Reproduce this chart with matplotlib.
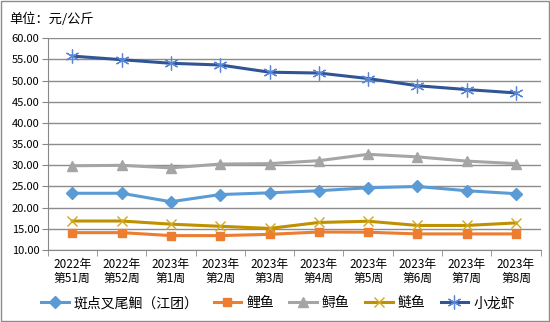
import matplotlib.pyplot as plt
from matplotlib.patches import Rectangle

plt.rcParams['font.family'] = ['Noto Sans CJK SC', 'DejaVu Sans']

weeks = ["2022年\n第51周", "2022年\n第52周", "2023年\n第1周", "2023年\n第2周", "2023年\n第3周",
         "2023年\n第4周", "2023年\n第5周", "2023年\n第6周", "2023年\n第7周", "2023年\n第8周"]
jiangtuan = [23.4, 23.4, 21.4, 23.1, 23.5, 24.0, 24.7, 25.0, 24.0, 23.3]
liyu = [14.1, 14.1, 13.4, 13.4, 13.7, 14.25, 14.2, 13.8, 13.8, 13.8]
xunyu = [29.9, 30.0, 29.4, 30.3, 30.4, 31.1, 32.6, 32.0, 31.0, 30.4]
lianyu = [16.85, 16.85, 16.1, 15.6, 15.1, 16.5, 16.8, 15.8, 15.8, 16.4]
xiaolongxia = [55.8, 54.95, 54.1, 53.7, 52.0, 51.8, 50.5, 48.8, 47.9, 47.1]

fig = plt.figure(figsize=(5.5, 3.22), dpi=100)
ax = fig.add_axes([0.0867, 0.2236, 0.8963, 0.6574])
x = range(len(weeks))

ax.plot(x, jiangtuan, color='#5B9BD5', lw=2.2, marker='D', ms=6, label='斑点叉尾鮰（江团）')
ax.plot(x, liyu, color='#ED7D31', lw=2.2, marker='s', ms=6, label='鲤鱼')
ax.plot(x, xunyu, color='#A5A5A5', lw=2.2, marker='^', ms=7, label='鲟鱼')
ax.plot(x, lianyu, color='#BF9000', lw=2.2, marker='x', ms=7, mew=1.0, mec='#D4A81C', label='鲢鱼')
ax.plot(x, xiaolongxia, color='#2F5597', lw=2.2, marker=(6, 2, 0), ms=10, mew=0.9, mec='#5B86D6',
        label='小龙虾')

ax.set_xlim(-0.5, len(weeks) - 0.5)
ax.set_ylim(10, 60)
ax.set_yticks(range(10, 61, 5))
ax.set_yticklabels([f"{v:.2f}" for v in range(10, 61, 5)], fontsize=8)
ax.set_xticks(list(x))
ax.set_xticklabels(weeks, fontsize=8.5, linespacing=1.1)
ax.set_xticks([i - 0.5 for i in range(len(weeks) + 1)], minor=True)
ax.tick_params(axis='x', which='major', length=0, pad=6)
ax.tick_params(axis='x', which='minor', length=4, color='#888888')
ax.tick_params(axis='y', length=4, color='#888888', pad=2)
ax.grid(axis='y', color='#8c8c8c', lw=1)
ax.set_axisbelow(True)
for s in ['top', 'right']:
    ax.spines[s].set_visible(False)
for s in ['left', 'bottom']:
    ax.spines[s].set_color('#888888')

fig.text(0.016, 0.94, "单位：元/公斤", fontsize=9.5, va='center')
fig.legend(loc='center', bbox_to_anchor=(0.505, 0.058), ncol=5, frameon=False, fontsize=10,
           handlelength=2.0, columnspacing=1.1, handletextpad=0.35)
fig.add_artist(Rectangle((0.001, 0.002), 0.997, 0.995, transform=fig.transFigure, fill=False,
                         ec='#8c8c8c', lw=1))

fig.savefig("out.png", dpi=100)
